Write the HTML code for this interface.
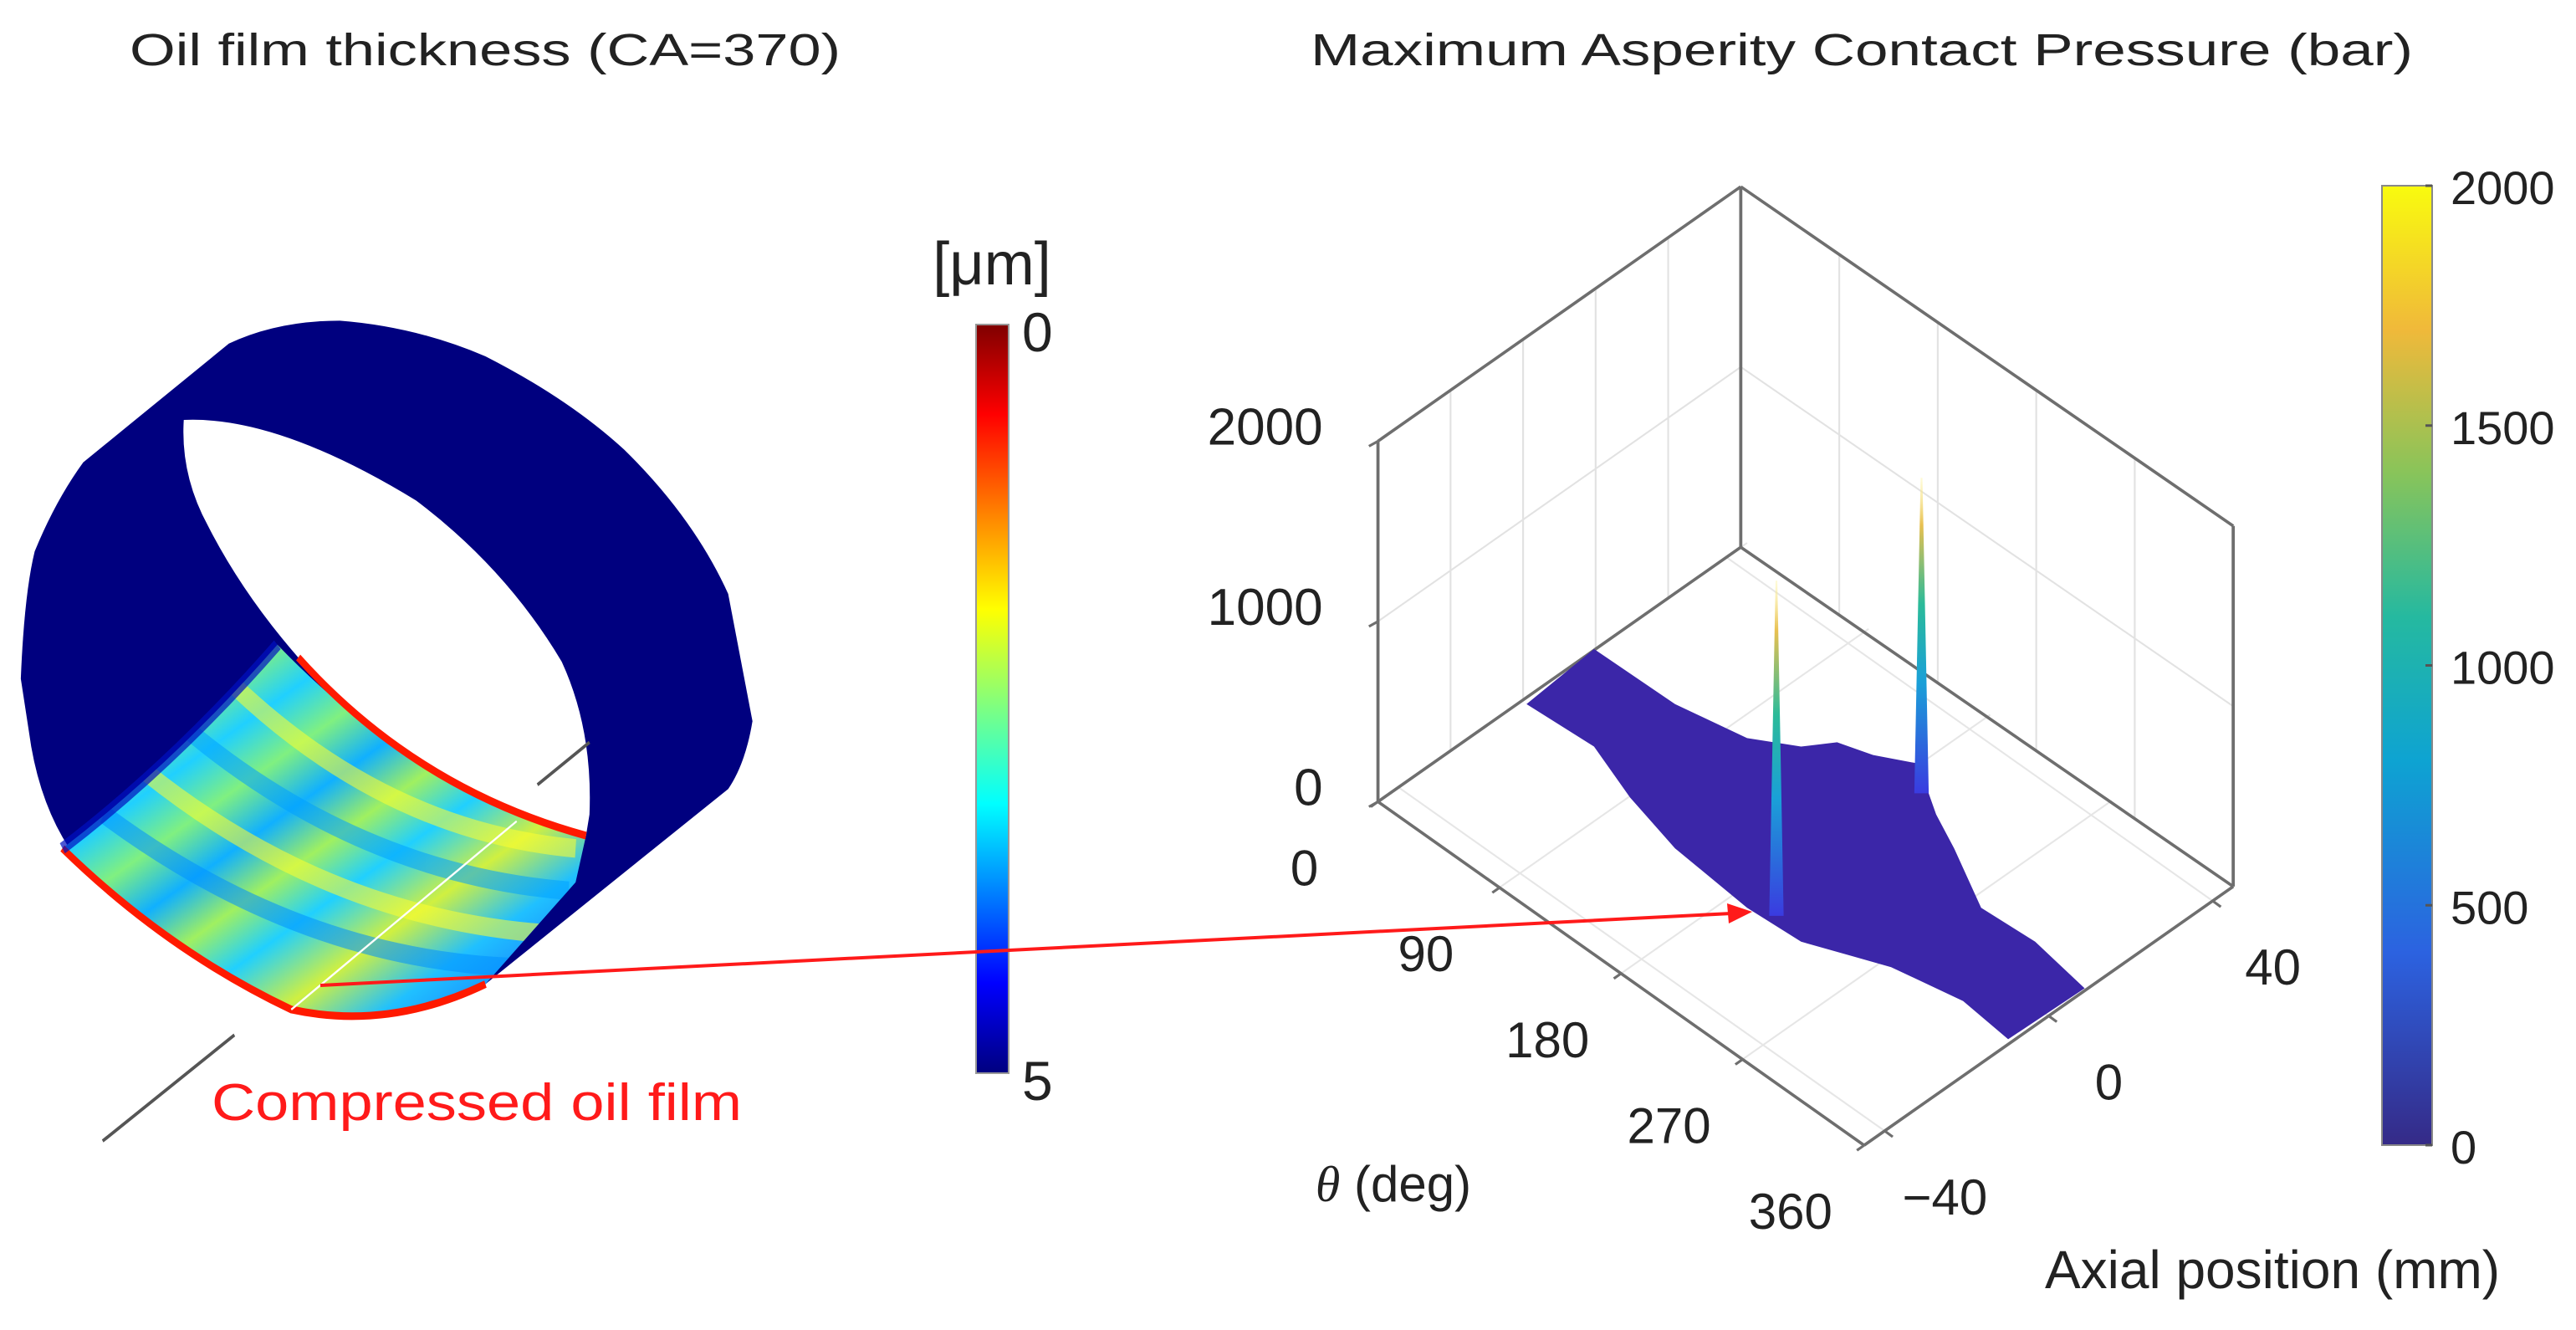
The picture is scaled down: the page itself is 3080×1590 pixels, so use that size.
<!DOCTYPE html>
<html><head><meta charset="utf-8"><style>
html,body{margin:0;padding:0;background:#fff}
svg{display:block}
text{font-family:"Liberation Sans",sans-serif;fill:#222}
</style></head><body>
<svg id="fig" width="3080" height="1590" viewBox="0 0 3080 1590" xmlns="http://www.w3.org/2000/svg">
<defs>
<linearGradient id="jet" x1="0" y1="1" x2="0" y2="0">
<stop offset="0" stop-color="#00007f"/><stop offset="0.12" stop-color="#0000ff"/><stop offset="0.36" stop-color="#00ffff"/><stop offset="0.62" stop-color="#ffff00"/><stop offset="0.88" stop-color="#ff0000"/><stop offset="1" stop-color="#7f0000"/>
</linearGradient>
<linearGradient id="parula" x1="0" y1="1" x2="0" y2="0">
<stop offset="0" stop-color="#352a87"/><stop offset="0.2" stop-color="#2c62e0"/><stop offset="0.4" stop-color="#0ea3d2"/><stop offset="0.55" stop-color="#25b9a0"/><stop offset="0.7" stop-color="#88c45a"/><stop offset="0.85" stop-color="#f0b93a"/><stop offset="1" stop-color="#f9fb0e"/>
</linearGradient>
<linearGradient id="spikeg" x1="0" y1="1" x2="0" y2="0">
<stop offset="0" stop-color="#3a3be0"/><stop offset="0.35" stop-color="#1aa0d8"/><stop offset="0.6" stop-color="#2bbb99"/><stop offset="0.85" stop-color="#e8c050"/><stop offset="1" stop-color="#fff6a0" stop-opacity="0.4"/>
</linearGradient>
<linearGradient id="film" x1="0" y1="0" x2="1" y2="1">
<stop offset="0" stop-color="#1060ff"/><stop offset="0.1" stop-color="#20e0ff"/><stop offset="0.2" stop-color="#80f080"/><stop offset="0.28" stop-color="#20d0ff"/><stop offset="0.36" stop-color="#80f080"/><stop offset="0.44" stop-color="#10b0ff"/><stop offset="0.52" stop-color="#a0f060"/><stop offset="0.6" stop-color="#20d0ff"/><stop offset="0.7" stop-color="#d0f040"/><stop offset="0.8" stop-color="#20c0ff"/><stop offset="1" stop-color="#1050ff"/>
</linearGradient>
<clipPath id="filmclip"><path d="M400,760 Q600,930 845,985 L830,1040 L700,1160 Q560,1215 420,1190 Q240,1120 90,1000 Q250,900 400,760 Z"/></clipPath>
</defs>

<!-- LEFT PANEL -->
<text x="580" y="78" font-size="54" text-anchor="middle" textLength="850" lengthAdjust="spacingAndGlyphs">Oil film thickness (CA=370)</text>
<g transform="scale(0.8292,1.0142)">
<path d="M490,378 Q600,385 700,420 Q820,470 900,530 Q1000,610 1050,700 L1085,850 Q1075,900 1050,930 L700,1160 Q560,1215 420,1190 Q240,1120 100,1000 Q60,950 45,880 L30,800 Q35,700 50,650 Q80,590 120,545 L330,405 Q400,378 490,378 Z" fill="#00007f"/>
<path d="M265,495 Q400,490 600,590 Q730,670 810,780 Q855,860 850,960 L845,985 Q600,930 430,775 Q350,700 300,620 Q260,560 265,495 Z" fill="#fff"/>
<path d="M400,760 Q600,930 845,985 L830,1040 L700,1160 Q560,1215 420,1190 Q240,1120 90,1000 Q250,900 400,760 Z" fill="url(#film)"/>
<g clip-path="url(#filmclip)" fill="none" stroke-width="22" opacity="0.55">
<path d="M340,810 Q560,980 830,1000" stroke="#ffff30"/>
<path d="M270,860 Q520,1030 820,1050" stroke="#00a0ff"/>
<path d="M210,910 Q470,1080 780,1100" stroke="#ffff30"/>
<path d="M150,960 Q430,1130 740,1140" stroke="#0090ff"/>
</g>
<path d="M430,775 Q600,930 845,985" fill="none" stroke="#ff1a00" stroke-width="9"/>
<path d="M90,1000 Q240,1120 420,1190 Q560,1215 700,1160" fill="none" stroke="#ff1a00" stroke-width="9"/>
<path d="M400,760 Q250,900 90,1000" fill="none" stroke="#0010c0" stroke-width="14" opacity="0.7"/>
<line x1="420" y1="1190" x2="745" y2="968" stroke="#fff" stroke-width="2.5"/>
<line x1="775" y1="925" x2="850" y2="875" stroke="#555" stroke-width="4"/>
<line x1="148" y1="1345" x2="338" y2="1220" stroke="#555" stroke-width="4"/>
</g>
<rect x="1167" y="388" width="39" height="895" fill="url(#jet)" stroke="#999" stroke-width="2"/>
<text x="1186" y="340" font-size="72" text-anchor="middle">[μm]</text>
<text x="1222" y="420" font-size="66">0</text>
<text x="1222" y="1315" font-size="66">5</text>
<text x="253" y="1339" font-size="62" fill="#ff1a1a" style="fill:#ff1a1a" textLength="634" lengthAdjust="spacingAndGlyphs">Compressed oil film</text>

<!-- RIGHT PANEL -->
<text x="2226" y="78" font-size="54" text-anchor="middle" textLength="1318" lengthAdjust="spacingAndGlyphs">Maximum Asperity Contact Pressure (bar)</text>
<g id="plot3d" transform="translate(1400,0) scale(1.0764,1.0142)"></g>
<rect x="2848" y="222" width="60" height="1147" fill="url(#parula)" stroke="#888" stroke-width="2"/>
<g id="cbticks"></g>
<text x="1666" y="1436" font-size="60" text-anchor="middle"><tspan font-style="italic" font-family="Liberation Serif">θ</tspan> (deg)</text>
<text x="2717" y="1540" font-size="64" text-anchor="middle">Axial position (mm)</text>

<!-- arrow -->
<line x1="383" y1="1178" x2="2070" y2="1092" stroke="#ff1a1a" stroke-width="4"/>
<polygon points="2095,1090 2065,1080 2067,1104" fill="#ff1a1a"/>
</svg>
<script>
const zTicks=[0,1000,2000];
const thetaTicks=[0,90,180,270,360];
const axialTicks=[-40,0,40];
const cbTicks=[0,500,1000,1500,2000];
const spikeTheta=[207,196];
const spikeAxial=[-16,23];
const spikePeak=[1860,1750];
const NS="http://www.w3.org/2000/svg";
const g=document.getElementById('plot3d');
const O={x:230,y:945}, Tend={x:770,y:1350}, Bk={x:633,y:645}, R={x:1180,y:1045};
const zPer=(945-520)/2000;
function proj(theta,axial,z){
  const t=theta/360, a=(axial+45)/90;
  const fx=O.x+(Tend.x-O.x)*t, fy=O.y+(Tend.y-O.y)*t;
  const dx=(R.x-Tend.x), dy=(R.y-Tend.y);
  return {x:fx+dx*a, y:fy+dy*a - z*zPer};
}
function el(tag,attrs,parent){const e=document.createElementNS(NS,tag);for(const k in attrs)e.setAttribute(k,attrs[k]);(parent||g).appendChild(e);return e;}
function line(a,b,st,w){return el('line',{x1:a.x,y1:a.y,x2:b.x,y2:b.y,stroke:st,'stroke-width':w});}
[0,1000,2000].forEach(z=>{
  const l=line({x:O.x,y:O.y-z*zPer},{x:Bk.x,y:Bk.y-z*zPer},'#e2e2e2',2);
  
  const r=line({x:Bk.x,y:Bk.y-z*zPer},{x:R.x,y:R.y-z*zPer},'#e2e2e2',2);
  
});
for(let i=1;i<5;i++){const t=i/5;
  const p={x:O.x+(Bk.x-O.x)*t,y:O.y+(Bk.y-O.y)*t};const q=line(p,{x:p.x,y:p.y-2000*zPer},'#e2e2e2',2);
  
  const p2={x:Bk.x+(R.x-Bk.x)*t,y:Bk.y+(R.y-Bk.y)*t};const q2=line(p2,{x:p2.x,y:p2.y-2000*zPer},'#e2e2e2',2);
  
}
thetaTicks.forEach(th=>{const a=proj(th,-45,0),b=proj(th,45,0);const l=line(a,b,'#e6e6e6',2);
  });
axialTicks.forEach(ax=>{const a=proj(0,ax,0),b=proj(360,ax,0);const l=line(a,b,'#e6e6e6',2);
  });
const box=[[O,Bk],[Bk,R],[O,Tend],[Tend,R],[O,{x:O.x,y:O.y-2000*zPer}],[Bk,{x:Bk.x,y:Bk.y-2000*zPer}],[R,{x:R.x,y:R.y-2000*zPer}],
 [{x:O.x,y:O.y-2000*zPer},{x:Bk.x,y:Bk.y-2000*zPer}],[{x:Bk.x,y:Bk.y-2000*zPer},{x:R.x,y:R.y-2000*zPer}]];
box.forEach(b=>{const l=line(b[0],b[1],'#6e6e6e',3.5);});
thetaTicks.forEach(th=>{const p=proj(th,-45,0);const l=line(p,{x:p.x-8,y:p.y+6},'#6e6e6e',3);
  });
axialTicks.forEach(ax=>{const p=proj(360,ax,0);const l=line(p,{x:p.x+9,y:p.y+7},'#6e6e6e',3);
  });
zTicks.forEach(z=>{const l=line({x:O.x,y:O.y-z*zPer},{x:O.x-10,y:O.y-z*zPer+6},'#6e6e6e',3);
  });
const surf=el('path',{d:'M395,830 L470,765 L560,830 L640,870 L700,880 L740,875 L780,890 L830,900 L850,960 L870,1000 L900,1070 L960,1110 L1015,1165 L930,1225 L880,1180 L800,1140 L700,1110 L640,1070 L560,1000 L510,940 L470,880 Z',fill:'#3b26a8'});


spikePeak.forEach((v,i)=>{
  const b=proj(spikeTheta[i],spikeAxial[i],0), t=proj(spikeTheta[i],spikeAxial[i],v);
  const p=el('polygon',{points:`${b.x-8},${b.y} ${t.x-1},${t.y} ${t.x+1},${t.y} ${b.x+8},${b.y}`,fill:'url(#spikeg)'});
  
  
});
const svg=document.getElementById('fig');
function toPage(p){return {x:1400+p.x*1.0764,y:p.y*1.0142};}
function txt(s,x,y,anchor,fs){const t=el('text',{x:x,y:y,'font-size':fs||58,'text-anchor':anchor},svg);t.textContent=s;return t;}
zTicks.forEach(z=>{const p=toPage({x:O.x,y:O.y-z*zPer});const t=txt(String(z),p.x-66,p.y+4,'end',62);
  });
thetaTicks.forEach(th=>{const p=toPage(proj(th,-45,0));const t=txt(String(th),p.x-88,p.y+100,'middle',60);
  });
axialTicks.forEach(ax=>{const p=toPage(proj(360,ax,0));const t=txt(ax<0?'\u2212'+Math.abs(ax):String(ax),p.x+72,p.y+100,'middle',60);
  });
const cbg=document.getElementById('cbticks');
cbTicks.forEach(v=>{const y=1369-(v/2000)*(1369-222);
  const l=el('line',{x1:2900,y1:y,x2:2908,y2:y,stroke:'#555','stroke-width':3},cbg);
  
  const t=el('text',{x:2930,y:y+22,'font-size':56},cbg);t.textContent=String(v);
  });
</script>
</body></html>
